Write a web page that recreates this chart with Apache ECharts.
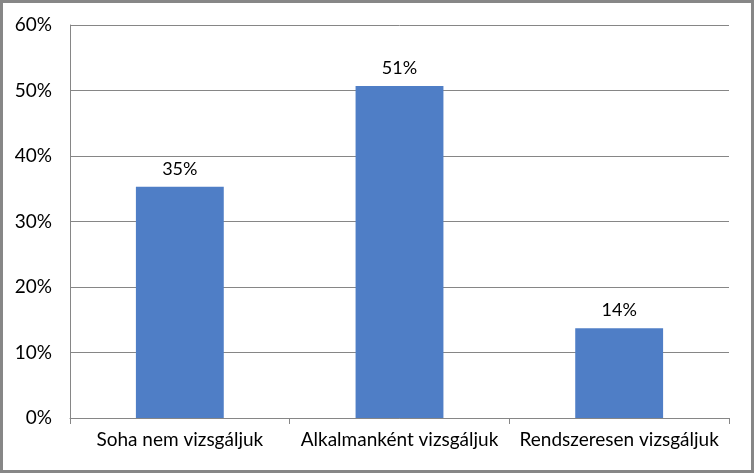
<!DOCTYPE html>
<html>
<head>
<meta charset="UTF-8">
<title>Vizsgálat gyakorisága</title>
<script src="https://cdn.jsdelivr.net/npm/echarts@6/dist/echarts.min.js"></script>
<style>
  html, body { margin: 0; padding: 0; background: #fff; }
  #frame {
    width: 754px; height: 473px;
    box-sizing: border-box;
    border: 3px solid #878787;
  }
  #chart { width: 748px; height: 467px; }
</style>
</head>
<body>
<div id="frame"><div id="chart"></div></div>
<script>
// chart data
var categories = ['Soha nem vizsgáljuk', 'Alkalmanként vizsgáljuk', 'Rendszeresen vizsgáljuk'];
var shares = [35.3, 50.7, 13.7];
var yTicks = [0, 10, 20, 30, 40, 50, 60];

var chart = echarts.init(document.getElementById('chart'));
var option = {
    animation: false,
    textStyle: { fontFamily: 'Lato, "Open Sans", sans-serif' },
    grid: { left: 67, right: 22, top: 22, bottom: 52 },
    xAxis: {
        type: 'category',
        data: categories,
        axisLine: { lineStyle: { color: '#868686', width: 1 } },
        axisTick: { show: true, length: 6, lineStyle: { color: '#868686' } },
        axisLabel: { color: '#000', fontSize: 19, margin: 12, interval: 0, hideOverlap: false }
    },
    yAxis: {
        type: 'value',
        min: yTicks[0],
        max: yTicks[yTicks.length - 1],
        interval: 10,
        axisLine: { show: true, lineStyle: { color: '#868686', width: 1 } },
        axisTick: { show: false },
        splitLine: { lineStyle: { color: '#868686', width: 1 } },
        axisLabel: { color: '#000', fontSize: 19, margin: 18, formatter: '{value}%' }
    },
    series: [{
        type: 'bar',
        data: shares,
        barWidth: '40%',
        itemStyle: { color: '#4F7EC6' },
        label: {
            show: true,
            position: 'top',
            distance: 9,
            color: '#000',
            fontSize: 18,
            formatter: function (p) { return Math.round(p.value) + '%'; }
        }
    }]
};
chart.setOption(option);
</script>
</body>
</html>
